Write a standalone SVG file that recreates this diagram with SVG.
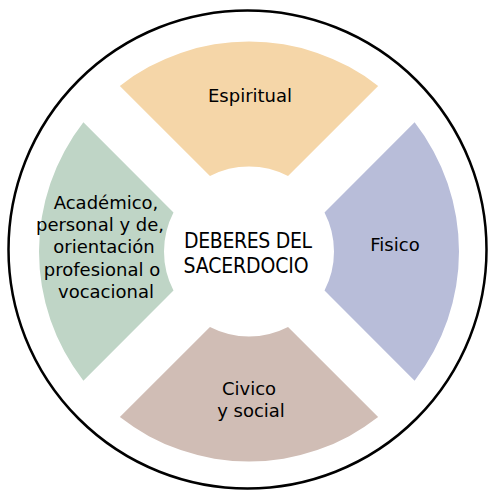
<svg xmlns="http://www.w3.org/2000/svg" width="489" height="492" viewBox="0 0 489 492">
  <style>
    .lbl { font-family: "DejaVu Sans", "Liberation Sans", sans-serif; font-size: 18px; fill: #000; text-anchor: middle; }
    .ctr { font-family: "DejaVu Sans Condensed", "DejaVu Sans", "Liberation Sans", sans-serif; font-stretch: condensed; font-size: 21px; fill: #000; text-anchor: middle; }
  </style>
  <rect width="489" height="492" fill="#ffffff"/>
  <g id="outer-ring">
    <circle cx="247.5" cy="249.5" r="239" fill="none" stroke="#000" stroke-width="2.5"/>
  </g>
  <g id="espiritual">
    <path d="M119.87,85.89 A210,210 0 0 1 378.13,85.89 L288.03,175.99 A85,85 0 0 0 209.97,175.99 Z" fill="#F5D6A8"/>
    <text class="lbl" x="250" y="102">Espiritual</text>
  </g>
  <g id="fisico">
    <path d="M414.61,122.37 A210,210 0 0 1 414.61,380.63 L324.51,290.53 A85,85 0 0 0 324.51,212.47 Z" fill="#B8BDD9"/>
    <text class="lbl" x="395" y="251">Fisico</text>
  </g>
  <g id="civico">
    <path d="M378.13,417.11 A210,210 0 0 1 119.87,417.11 L209.97,327.01 A85,85 0 0 0 288.03,327.01 Z" fill="#D0BDB5"/>
    <text class="lbl" x="249" y="395">Civico</text>
    <text class="lbl" x="251" y="417">y social</text>
  </g>
  <g id="academico">
    <path d="M83.39,380.63 A210,210 0 0 1 83.39,122.37 L173.49,212.47 A85,85 0 0 0 173.49,290.53 Z" fill="#BFD5C6"/>
    <text class="lbl" x="106" y="209">Académico,</text>
    <text class="lbl" x="100" y="231">personal y de,</text>
    <text class="lbl" x="104" y="253">orientación</text>
    <text class="lbl" x="102" y="276">profesional o</text>
    <text class="lbl" x="106" y="298">vocacional</text>
  </g>
  <g id="centro">
    <text class="ctr" x="248" y="248" textLength="128">DEBERES DEL</text>
    <text class="ctr" x="246" y="273" textLength="125">SACERDOCIO</text>
  </g>
  <g id="connectors"></g>
</svg>
